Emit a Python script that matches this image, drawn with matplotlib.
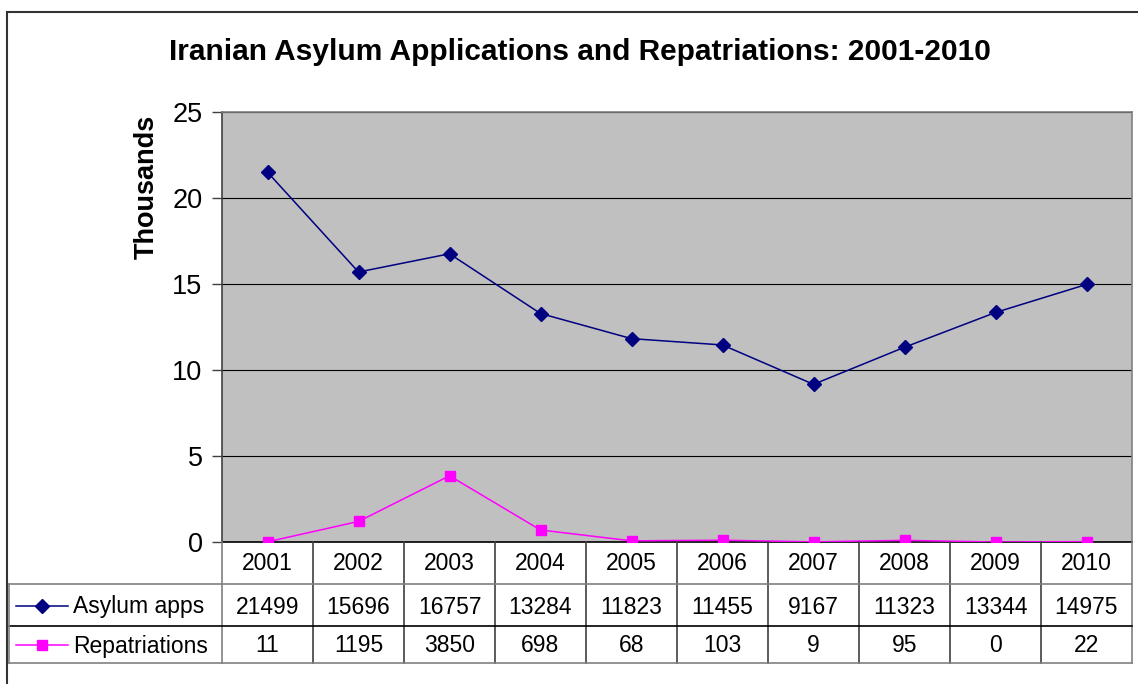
import matplotlib
matplotlib.use('Agg')
import matplotlib.pyplot as plt
import numpy as np
from matplotlib.lines import Line2D
from matplotlib.patches import Rectangle
from matplotlib.transforms import blended_transform_factory

plt.rcParams['font.family'] = ['Liberation Sans', 'DejaVu Sans']

years = ['2001', '2002', '2003', '2004', '2005', '2006', '2007', '2008', '2009', '2010']
asylum = [21499, 15696, 16757, 13284, 11823, 11455, 9167, 11323, 13344, 14975]
repat = [11, 1195, 3850, 698, 68, 103, 9, 95, 0, 22]
series_names = ['Asylum apps', 'Repatriations']

W, H = 1138, 684
navy = '#000080'
magenta = '#FF00FF'
edge = '#808080'

fig = plt.figure(figsize=(W / 100, H / 100), dpi=100)

def fy(py):
    return 1 - py / H

def fx(px):
    return px / W

# outer chart border
fig.add_artist(Rectangle((fx(7), fy(700)), fx(1150) - fx(7), fy(12) - fy(700),
                         transform=fig.transFigure, fill=False, edgecolor='#333333', lw=1.5))

left, right, top, bottom = 222, 1132, 112, 542
ax = fig.add_axes([fx(left), fy(bottom), fx(right - left), fy(top) - fy(bottom)])
ax.set_facecolor('#C0C0C0')
x = np.arange(len(years))
ax.plot(x, np.array(asylum) / 1000, color=navy, lw=1.1, marker='D', ms=7,
        mfc=navy, mec=navy, zorder=3)
ax.plot(x, np.array(repat) / 1000, color=magenta, lw=1.1, marker='s', ms=7,
        mfc=magenta, mec=magenta, zorder=3)
ax.set_xlim(-0.5, len(years) - 0.5)
ax.set_ylim(0, 25)
ax.set_yticks(range(0, 26, 5))
ax.yaxis.grid(True, color='black', lw=0.8)
ax.set_axisbelow(True)
ax.set_xticks([])
ax.tick_params(axis='y', direction='out', length=7, width=1, color='#404040',
               labelsize=19.5, pad=7)
for s in ax.spines.values():
    s.set_color(edge)
    s.set_linewidth(1.2)
ax.spines['bottom'].set_color('black')
ax.spines['left'].set_color('#404040')
fig.text(fx(147), fy(187), 'Thousands', rotation=90, ha='center', va='center',
         fontsize=19.5, fontweight='bold')

fig.text(fx(580), fy(52), 'Iranian Asylum Applications and Repatriations: 2001-2010',
         ha='center', va='center', fontsize=21.5, fontweight='bold')

# data table under the plot
tr = blended_transform_factory(ax.transData, fig.transFigure)
row_y = [542, 584, 626, 663]
for k in range(len(years) + 1):
    fig.add_artist(Line2D([k - 0.5, k - 0.5], [fy(row_y[0]), fy(row_y[-1])],
                          transform=tr, color='#404040' if 0 < k < len(years) else edge, lw=1.2))
for py in row_y[1:]:
    fig.add_artist(Line2D([fx(9), fx(right)], [fy(py), fy(py)], transform=fig.transFigure,
                          color='black' if py == 626 else edge, lw=1.2))
fig.add_artist(Line2D([fx(9), fx(9)], [fy(584), fy(663)], transform=fig.transFigure,
                      color=edge, lw=1.2))

fs = 16.5
for i, yr in enumerate(years):
    fig.text(i, fy(564), yr, transform=tr, ha='center', va='center', fontsize=fs)
    fig.text(i, fy(607), str(asylum[i]), transform=tr, ha='center', va='center', fontsize=fs)
    fig.text(i, fy(646), str(repat[i]), transform=tr, ha='center', va='center', fontsize=fs)

for name, py, col, mk in [(series_names[0], 606, navy, 'D'), (series_names[1], 645, magenta, 's')]:
    fig.add_artist(Line2D([fx(16), fx(68)], [fy(py), fy(py)], transform=fig.transFigure,
                          color=col, lw=1.1))
    fig.add_artist(Line2D([fx(42)], [fy(py)], transform=fig.transFigure, color=col,
                          marker=mk, ms=7, mfc=col, mec=col, lw=0))
    fig.text(fx(73), fy(py + 1), name, ha='left', va='center', fontsize=fs)

fig.savefig('out.png', dpi=100)
